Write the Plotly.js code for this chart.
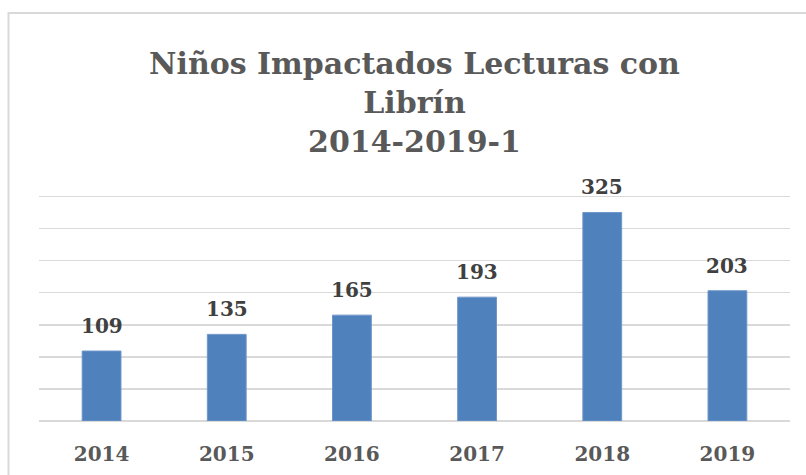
<!DOCTYPE html>
<html>
<head>
<meta charset="utf-8">
<script src="https://cdn.plot.ly/plotly-3.0.1.min.js"></script>
<style>html,body{margin:0;padding:0;background:#fff;}#chart{width:806px;height:475px;}</style>
</head>
<body>
<div id="chart"></div>
<script>
const years = ["2014", "2015", "2016", "2017", "2018", "2019"];
const ninos = [109, 135, 165, 193, 325, 203];
const titleLines = ["Niños Impactados Lecturas con", "Librín", "2014-2019-1"];

const serif = "'DejaVu Serif', 'Liberation Serif', serif";
const labelFont = {family: serif, size: 20, color: "#404040", weight: "bold"};

const annotations = years.map((y, i) => ({
  x: i, y: ninos[i], xref: "x", yref: "y",
  text: "<b>" + ninos[i] + "</b>", showarrow: false,
  yanchor: "bottom", yshift: 11, font: labelFont
}));

const layout = {
  width: 806, height: 475,
  paper_bgcolor: "#ffffff", plot_bgcolor: "#ffffff",
  margin: {l: 39, r: 16, t: 189.6, b: 53.5, pad: 0},
  showlegend: false,
  bargap: 0.69,
  title: {
    text: "<b>" + titleLines.join("<br>") + "</b>",
    x: 0.5, xref: "paper", xanchor: "center",
    y: 1 - 74/475, yref: "container", yanchor: "top",
    font: {family: serif, size: 30, color: "#595959", weight: "bold"}
  },
  xaxis: {
    type: "category", categoryorder: "array", categoryarray: years,
    range: [-0.5, years.length - 0.5], autorange: false,
    showgrid: false, zeroline: false, showline: false,
    ticks: "", ticklabelstandoff: 19,
    tickfont: {family: serif, size: 20, color: "#595959", weight: "bold"},
    fixedrange: true
  },
  yaxis: {
    range: [0, 360], autorange: false, tick0: 0, dtick: 50, showgrid: true, gridcolor: "#d9d9d9", gridwidth: 1.5,
    zeroline: true, zerolinecolor: "#d9d9d9", zerolinewidth: 1.5,
    showticklabels: false, ticks: "", showline: false, fixedrange: true
  },
  annotations: annotations,
  shapes: [{
    type: "rect", xref: "paper", yref: "paper", layer: "below",
    x0: (8.5-39)/751, x1: (815-39)/751, y0: (421.5-485)/231.9, y1: (421.5-12)/231.9,
    line: {color: "#d9d9d9", width: 2}, fillcolor: "rgba(0,0,0,0)"
  }]
};

Plotly.newPlot("chart", [{
  type: "bar", x: years, y: ninos,
  marker: {color: "#4f81bd", line: {color: "#6e96c9", width: 1}},
  hoverinfo: "x+y"
}], layout, {staticPlot: true, displayModeBar: false});
</script>
</body>
</html>
